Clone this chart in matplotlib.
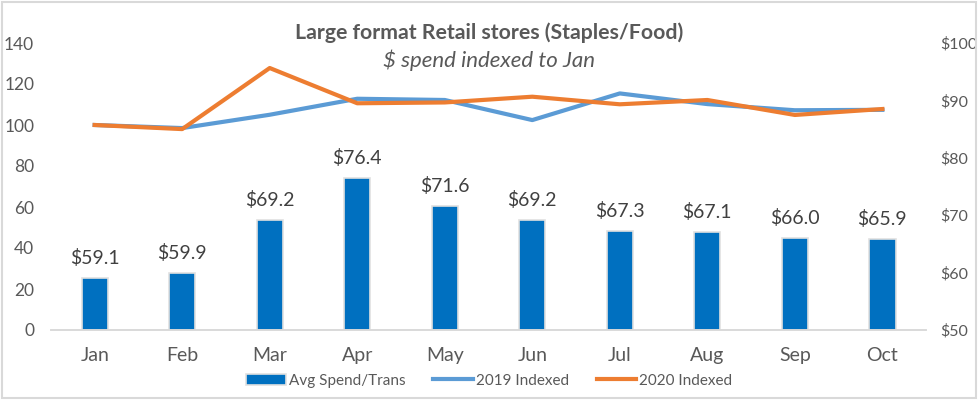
import numpy as np
import matplotlib.pyplot as plt
from matplotlib.patches import Rectangle

plt.rcParams['font.family'] = ['Lato', 'DejaVu Sans']

months = ['Jan', 'Feb', 'Mar', 'Apr', 'May', 'Jun', 'Jul', 'Aug', 'Sep', 'Oct']
avg_spend = [59.1, 59.9, 69.2, 76.4, 71.6, 69.2, 67.3, 67.1, 66.0, 65.9]
idx_2019 = [100, 98.5, 105, 112.8, 112.2, 102.4, 115.4, 110.2, 107.2, 107.4]
idx_2020 = [100, 98.0, 127.8, 110.6, 111.0, 113.8, 110.1, 112.2, 104.9, 107.8]

grey = '#595959'
x = np.arange(len(months))

fig = plt.figure(figsize=(9.79, 4.0), dpi=100)
fig.patches.append(Rectangle((0.002, 0.004), 0.995, 0.992, transform=fig.transFigure,
                             fill=False, edgecolor='#d9d9d9', linewidth=1.5))

# bars use the $ scale (shown on the right), lines use the index scale (shown on the left)
ax = fig.add_axes([0.052, 0.175, 0.894, 0.7175])
bars = ax.bar(x, avg_spend, width=0.3, color='#0070C0', edgecolor='#e0e0e0',
              linewidth=1.2, label='Avg Spend/Trans')
ax.set_ylim(50, 100)
ax.set_yticks(range(50, 101, 10))
ax.set_yticklabels([f'${v}' for v in range(50, 101, 10)])
for xi, v in zip(x, avg_spend):
    ax.annotate(f'${v:.1f}', (xi, v), xytext=(0, 8), textcoords='offset points',
                ha='center', va='bottom', fontsize=14, color='#404040')

ax2 = ax.twinx()
l1, = ax2.plot(x, idx_2019, color='#5B9BD5', linewidth=3, label='2019 Indexed')
l2, = ax2.plot(x, idx_2020, color='#ED7D31', linewidth=3, label='2020 Indexed')
ax2.set_ylim(0, 140)
ax2.set_yticks(range(0, 141, 20))

# swap sides after twinx
ax.yaxis.tick_right()
ax2.yaxis.tick_left()

ax.set_xlim(-0.5, len(months) - 0.5)
ax.set_xticks(x)
ax.set_xticklabels(months)

for a in (ax, ax2):
    for s in ('top', 'left', 'right'):
        a.spines[s].set_visible(False)
    a.spines['bottom'].set_color('#d9d9d9')
    a.spines['bottom'].set_linewidth(1.2)
    a.tick_params(length=0, colors=grey, labelsize=12.5)
ax.tick_params(axis='x', pad=12, labelsize=14)
ax.tick_params(axis='y', pad=10, labelsize=11.5)
ax2.tick_params(axis='y', pad=12, labelsize=12.5)

fig.text(0.5, 0.918, 'Large format Retail stores (Staples/Food)', ha='center',
         va='center', fontsize=15.3, fontweight='bold', color=grey)
fig.text(0.5, 0.85, '$ spend indexed to Jan', ha='center', va='center',
         fontsize=16, style='italic', color=grey)

fig.legend(handles=[bars, l1, l2], loc='center', bbox_to_anchor=(0.5, 0.048), ncol=3,
           frameon=False, fontsize=11, handlelength=2.6, columnspacing=1.8,
           handletextpad=0.2, labelcolor=grey)

fig.savefig('out.png', dpi=100)
